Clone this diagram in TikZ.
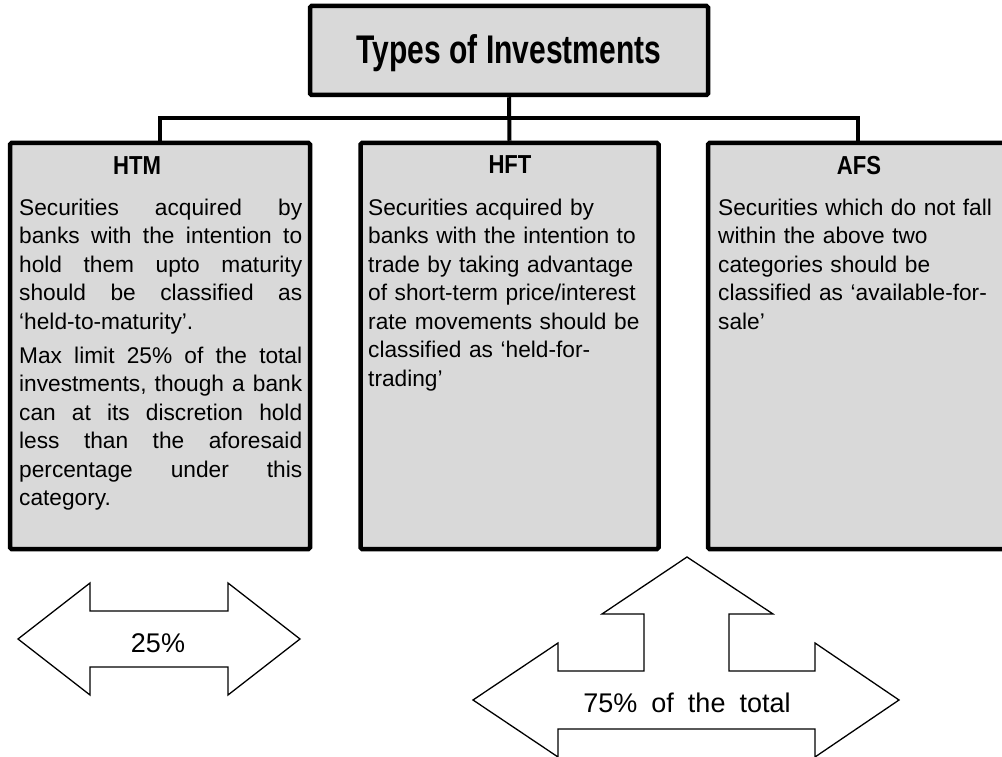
\documentclass[tikz,border=0pt]{standalone}
\usepackage{fontspec}
\setmainfont{Liberation Sans}
\newfontfamily\titlefont[FakeStretch=0.75]{Liberation Sans}
\newfontfamily\headfont[FakeStretch=0.85]{Liberation Sans}
\definecolor{boxgray}{RGB}{217,217,217}
\setlength{\parindent}{0pt}
\newcommand{\jline}[1]{\makebox[283pt][l]{#1}}
\begin{document}
\begin{tikzpicture}[x=1pt,y=-1pt,
  catbox/.style={draw=black, line width=4.5pt, fill=boxgray, rounded corners=1.5pt,
    inner sep=0pt, minimum width=300pt, minimum height=406pt},
  conn/.style={draw=black, line width=4pt},
  headtxt/.style={anchor=base, inner sep=0pt, font=\headfont\bfseries\fontsize{26}{30}\selectfont},
  bodytxt/.style={anchor=north west, inner sep=0pt, text width=290pt, align=left,
    font=\fontsize{22.7}{28.5}\selectfont},
  bigarrow/.style={draw=black, line width=1.3pt, fill=white, line join=miter},
  arrowtxt/.style={inner sep=0pt, font=\fontsize{27}{30}\selectfont}
]
\useasboundingbox (0,0) rectangle (1002,757);
\clip (0,0) rectangle (1002,757);

% boxes
\node[catbox, minimum width=398pt, minimum height=89pt] (top) at (509,50.5) {};
\node[catbox] (htm) at (160,346) {};
\node[catbox, minimum width=298pt] (hft) at (509.5,346) {};
\node[catbox] (afs) at (858,346) {};

% connectors
\draw[conn] (top.south) -- (hft.north);
\draw[conn] (htm.north) -- ++(0,-23) -| (afs.north);

% title
\node[anchor=base, inner sep=0pt, font=\titlefont\bfseries\fontsize{40}{44}\selectfont] (title) at (509,64) {Types of Investments};

% headings
\node[headtxt] (htmh) at (137,175) {HTM};
\node[headtxt] (hfth) at (510,174) {HFT};
\node[headtxt] (afsh) at (859,175) {AFS};

% bodies
\node[bodytxt] (htmb) at (19,195) {\strut\jline{Securities\hfill acquired\hfill by}\\
\jline{banks\hfill with\hfill the\hfill intention\hfill to}\\
\jline{hold\hfill them\hfill upto\hfill maturity}\\
\jline{should\hfill be\hfill classified\hfill as}\\
‘held-to-maturity’.\\[5.5pt]
\jline{Max\hfill limit\hfill 25\%\hfill of\hfill the\hfill total}\\
\jline{investments,\hfill though\hfill a\hfill bank}\\
\jline{can\hfill at\hfill its\hfill discretion\hfill hold}\\
\jline{less\hfill than\hfill the\hfill aforesaid}\\
\jline{percentage\hfill under\hfill this}\\
category.};

\node[bodytxt] (hftb) at (368,195) {\strut Securities acquired by\\
banks with the intention to\\
trade by taking advantage\\
of short-term price/interest\\
rate movements should be\\
classified as ‘held-for-\\
trading’};

\node[bodytxt] (afsb) at (718,195) {\strut Securities which do not fall\\
within the above two\\
categories should be\\
classified as ‘available-for-\\
sale’};

% 25% double arrow
\draw[bigarrow] (18,639) -- (90,583) -- (90,611) -- (228,611) -- (228,583) -- (300,639)
  -- (228,695) -- (228,667) -- (90,667) -- (90,695) -- cycle;
\node[arrowtxt] (pct25) at (158,643) {25\%};

% 75% triple arrow
\draw[bigarrow] (687,557) -- (773,614) -- (729,614) -- (729,671) -- (815,671) -- (815,643)
  -- (899,700) -- (815,757) -- (815,729) -- (558,729) -- (558,757) -- (473,700)
  -- (558,643) -- (558,671) -- (644,671) -- (644,614) -- (602,614) -- cycle;
\node[arrowtxt] (pct75) at (687,703) {75\%\hspace{14pt}of\hspace{14pt}the\hspace{14pt}total};
\end{tikzpicture}
\end{document}
